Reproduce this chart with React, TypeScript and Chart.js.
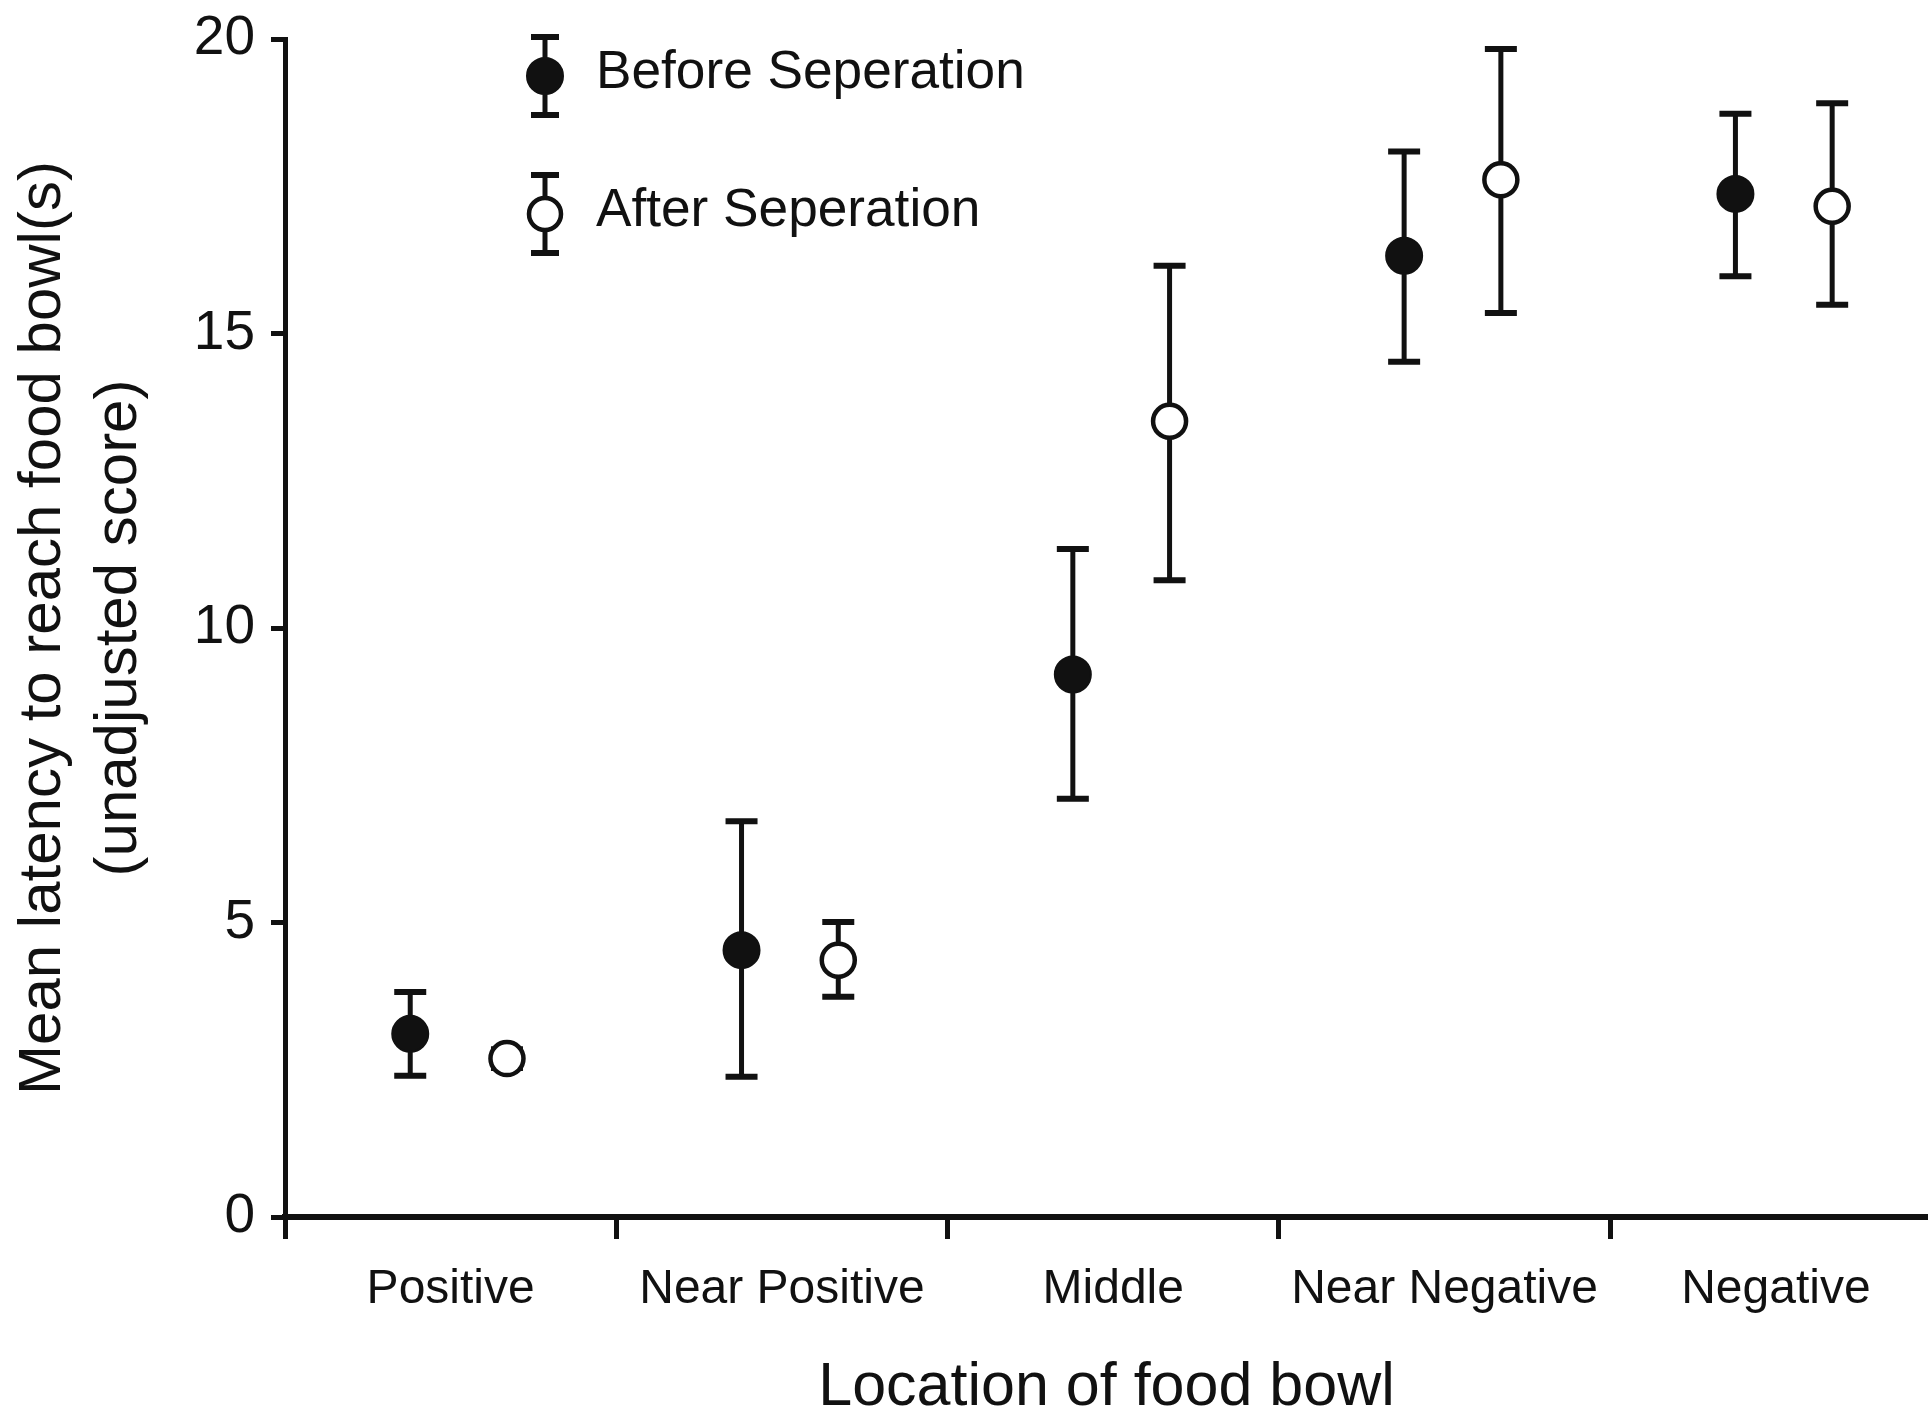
import React, { useEffect, useRef } from 'react';
import { Chart, registerables } from 'chart.js';

Chart.register(...registerables);

const categories = ['Positive', 'Near Positive', 'Middle', 'Near Negative', 'Negative'];
const seriesNames = ['Before Seperation', 'After Seperation'];
const beforeMean = [3.11, 4.53, 9.21, 16.32, 17.37];
const beforeHigh = [3.82, 6.72, 11.34, 18.09, 18.73];
const beforeLow = [2.4, 2.38, 7.1, 14.52, 15.97];
const afterMean = [2.69, 4.36, 13.51, 17.61, 17.16];
const afterHigh = [2.85, 5.01, 16.15, 19.83, 18.91];
const afterLow = [2.53, 3.74, 10.81, 15.35, 15.49];
const yTicks = [0, 5, 10, 15, 20];
const xTitle = 'Location of food bowl';
const yTitle = ['Mean latency to reach food bowl(s)', '(unadjusted score)'];

const W = 1928;
const H = 1413;
const INK = '#111111';
const FONT = "'Liberation Sans', Arial, sans-serif";
const BEFORE_OFFSET = 0.378;
const AFTER_OFFSET = 0.67;

const errorBarPlugin = {
  id: 'errorBars',
  beforeDatasetsDraw(chart: any) {
    const { ctx } = chart;
    const yScale = chart.scales.y;
    chart.data.datasets.forEach((ds: any, di: number) => {
      const meta = chart.getDatasetMeta(di);
      meta.data.forEach((el: any, i: number) => {
        const x = el.x;
        const yh = yScale.getPixelForValue(ds.errHigh[i]);
        const yl = yScale.getPixelForValue(ds.errLow[i]);
        ctx.save();
        ctx.strokeStyle = INK;
        ctx.lineWidth = 5;
        ctx.beginPath();
        ctx.moveTo(x, yh);
        ctx.lineTo(x, yl);
        ctx.stroke();
        ctx.lineWidth = 6;
        ctx.beginPath();
        ctx.moveTo(x - 16, yh);
        ctx.lineTo(x + 16, yh);
        ctx.moveTo(x - 16, yl);
        ctx.lineTo(x + 16, yl);
        ctx.stroke();
        ctx.restore();
      });
    });
  },
};

const legendPlugin = {
  id: 'customLegend',
  afterDraw(chart: any) {
    const { ctx, chartArea } = chart;
    const mx = chartArea.left + 260;
    const rows = [
      { cy: 76, filled: true, label: seriesNames[0] },
      { cy: 214, filled: false, label: seriesNames[1] },
    ];
    rows.forEach((r) => {
      ctx.save();
      ctx.strokeStyle = INK;
      ctx.lineWidth = 5;
      ctx.beginPath();
      ctx.moveTo(mx, r.cy - 39);
      ctx.lineTo(mx, r.cy + 39);
      ctx.stroke();
      ctx.lineWidth = 6;
      ctx.beginPath();
      ctx.moveTo(mx - 14, r.cy - 39);
      ctx.lineTo(mx + 14, r.cy - 39);
      ctx.moveTo(mx - 14, r.cy + 39);
      ctx.lineTo(mx + 14, r.cy + 39);
      ctx.stroke();
      ctx.beginPath();
      ctx.arc(mx, r.cy, r.filled ? 18 : 16, 0, Math.PI * 2);
      ctx.fillStyle = r.filled ? INK : '#ffffff';
      ctx.fill();
      ctx.lineWidth = r.filled ? 2 : 4.5;
      ctx.stroke();
      ctx.translate(mx + 51, r.cy - 3);
      ctx.scale(0.985, 1);
      ctx.fillStyle = INK;
      ctx.font = `54px ${FONT}`;
      ctx.textBaseline = 'middle';
      ctx.textAlign = 'left';
      ctx.fillText(r.label, 0, 0);
      ctx.restore();
    });
  },
};

export default function App() {
  const canvasRef = useRef<HTMLCanvasElement | null>(null);

  useEffect(() => {
    document.body.style.margin = '0';
    document.body.style.overflow = 'hidden';
    const canvas = canvasRef.current;
    if (!canvas) return;

    const chart = new Chart(canvas, {
      type: 'scatter',
      data: {
        datasets: [
          {
            label: seriesNames[0],
            data: beforeMean.map((v, i) => ({ x: i + BEFORE_OFFSET, y: v })),
            errHigh: beforeHigh,
            errLow: beforeLow,
            pointRadius: 18,
            pointBackgroundColor: INK,
            pointBorderColor: INK,
            pointBorderWidth: 2,
            showLine: false,
          } as any,
          {
            label: seriesNames[1],
            data: afterMean.map((v, i) => ({ x: i + AFTER_OFFSET, y: v })),
            errHigh: afterHigh,
            errLow: afterLow,
            pointRadius: 16.5,
            pointBackgroundColor: '#ffffff',
            pointBorderColor: INK,
            pointBorderWidth: 4.5,
            showLine: false,
          } as any,
        ],
      },
      options: {
        responsive: false,
        animation: false,
        events: [],
        layout: { autoPadding: false, padding: { top: 39, left: 0, right: 0, bottom: 0 } },
        plugins: {
          legend: { display: false },
          tooltip: { enabled: false },
        },
        scales: {
          x: {
            type: 'linear',
            min: 0,
            max: (W - 285) / 331.3,
            afterFit: (s: any) => {
              s.height = 196;
              s.paddingLeft = 0;
              s.paddingRight = 0;
            },
            afterBuildTicks: (s: any) => {
              const t: any[] = [];
              for (let i = 0; i < categories.length; i++) {
                t.push({ value: i });
                t.push({ value: i + 0.5 });
              }
              s.ticks = t;
            },
            ticks: {
              autoSkip: false,
              maxRotation: 0,
              padding: 22,
              color: INK,
              font: { family: FONT, size: 48 },
              callback: (v: any) => {
                const n = Number(v);
                if (Math.abs(n - Math.floor(n) - 0.5) < 1e-6) return categories[Math.floor(n)];
                return '';
              },
            },
            grid: {
              drawOnChartArea: false,
              tickLength: 22,
              tickWidth: 5,
              tickColor: (c: any) =>
                c.tick && Math.abs(c.tick.value - Math.round(c.tick.value)) < 1e-6 ? INK : 'rgba(0,0,0,0)',
            },
            border: { color: INK, width: 6 },
            title: {
              display: true,
              text: xTitle,
              color: INK,
              font: { family: FONT, size: 61, lineHeight: 0.8 },
              padding: 0,
            },
          },
          y: {
            type: 'linear',
            min: 0,
            max: 20,
            afterFit: (s: any) => {
              s.width = 285;
              s.paddingTop = 0;
              s.paddingBottom = 0;
            },
            afterBuildTicks: (s: any) => {
              s.ticks = yTicks.map((v) => ({ value: v }));
            },
            ticks: {
              padding: 16,
              color: INK,
              font: { family: FONT, size: 55 },
            },
            grid: {
              drawOnChartArea: false,
              tickLength: 14,
              tickWidth: 5,
              tickColor: INK,
            },
            border: { color: INK, width: 5 },
            title: {
              display: true,
              text: yTitle,
              color: INK,
              font: { family: FONT, size: 60, lineHeight: 1.267 },
              padding: { top: 5, bottom: 0 },
            },
          },
        },
      },
      plugins: [errorBarPlugin, legendPlugin],
    } as any);

    return () => {
      chart.destroy();
    };
  }, []);

  return (
    <div style={{ width: W, height: H, background: '#ffffff' }}>
      <canvas ref={canvasRef} width={W} height={H} style={{ display: 'block' }} />
    </div>
  );
}
